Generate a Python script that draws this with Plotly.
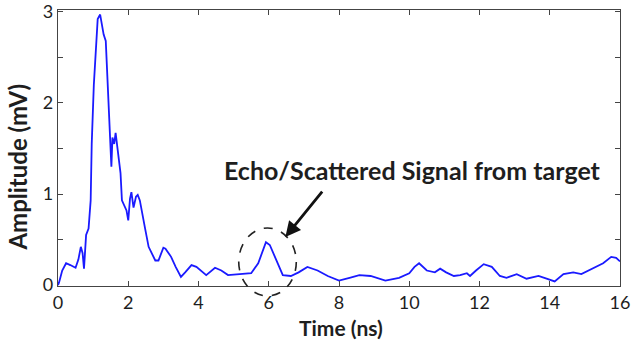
import plotly.graph_objects as go

time_ns = [0.0, 0.03, 0.12, 0.23, 0.35, 0.5, 0.58, 0.65, 0.7, 0.74, 0.8, 0.87, 0.93, 0.96, 1.02, 1.08, 1.13, 1.2, 1.25, 1.3, 1.36, 1.44, 1.5, 1.52, 1.55, 1.6, 1.64, 1.7, 1.78, 1.82, 1.88, 1.95, 2.0, 2.05, 2.09, 2.15, 2.22, 2.27, 2.33, 2.4, 2.48, 2.58, 2.68, 2.77, 2.86, 3.0, 3.06, 3.22, 3.35, 3.5, 3.62, 3.8, 3.94, 4.22, 4.47, 4.65, 4.84, 5.13, 5.5, 5.7, 5.82, 5.92, 6.03, 6.15, 6.26, 6.4, 6.63, 6.85, 7.1, 7.39, 7.68, 8.0, 8.3, 8.58, 8.9, 9.32, 9.71, 10.0, 10.15, 10.28, 10.5, 10.73, 10.88, 11.05, 11.27, 11.45, 11.64, 11.73, 11.9, 12.12, 12.35, 12.58, 12.77, 13.06, 13.34, 13.68, 13.91, 14.14, 14.39, 14.67, 14.9, 15.24, 15.52, 15.75, 15.89, 16.0]
amplitude_mv = [0.0, 0.03, 0.16, 0.24, 0.22, 0.19, 0.28, 0.42, 0.35, 0.18, 0.55, 0.62, 0.93, 1.55, 2.2, 2.62, 2.92, 2.97, 2.85, 2.75, 2.68, 2.05, 1.6, 1.3, 1.62, 1.55, 1.67, 1.5, 1.23, 0.93, 0.87, 0.82, 0.71, 0.95, 1.02, 0.85, 0.97, 0.99, 0.93, 0.8, 0.62, 0.42, 0.33, 0.27, 0.27, 0.41, 0.4, 0.31, 0.2, 0.09, 0.14, 0.22, 0.2, 0.11, 0.19, 0.16, 0.11, 0.12, 0.13, 0.24, 0.36, 0.47, 0.44, 0.33, 0.22, 0.11, 0.1, 0.14, 0.2, 0.16, 0.1, 0.05, 0.08, 0.11, 0.1, 0.05, 0.08, 0.13, 0.2, 0.24, 0.16, 0.14, 0.18, 0.14, 0.1, 0.11, 0.13, 0.1, 0.16, 0.23, 0.2, 0.1, 0.08, 0.12, 0.07, 0.1, 0.07, 0.04, 0.12, 0.14, 0.12, 0.19, 0.24, 0.31, 0.3, 0.26]

x_tick_vals = [0, 2, 4, 6, 8, 10, 12, 14, 16]
y_tick_vals = [0, 0.5, 1, 1.5, 2, 2.5, 3]
y_tick_text = ["0", "", "1", "", "2", "", "3"]
x_title = "Time (ns)"
y_title = "Amplitude (mV)"
annotation_text = "Echo/Scattered Signal from target"

FONT = "Lato"
TXT = "#1e1e1e"

fig = go.Figure()
fig.add_trace(go.Scatter(x=time_ns, y=amplitude_mv, mode="lines",
                         line=dict(color="#1a1aff", width=1.8), showlegend=False))

axis_common = dict(showline=True, linecolor="#444", linewidth=1.2, mirror="ticks",
                   ticks="inside", ticklen=5, tickcolor="#444", showgrid=False,
                   zeroline=False, tickfont=dict(family=FONT, size=18, color=TXT),
                   tickprefix="<b>", ticksuffix="</b>", automargin=False,
                   ticklabeloverflow="allow")

fig.update_xaxes(range=[0, 16], tickvals=x_tick_vals, **axis_common)
fig.update_yaxes(range=[-0.01, 3.02], tickvals=y_tick_vals, ticktext=y_tick_text, **axis_common)

# axis titles placed as annotations
fig.add_annotation(xref="paper", yref="paper", x=0.5035, y=-0.1486,
                   xanchor="center", yanchor="middle",
                   text="<b>" + x_title + "</b>", showarrow=False,
                   font=dict(family=FONT, size=21, color=TXT))
fig.add_annotation(xref="paper", yref="paper", x=-0.072, y=0.431, textangle=-90,
                   xanchor="center", yanchor="middle",
                   text="<b>" + y_title + "</b>", showarrow=False,
                   font=dict(family=FONT, size=24, color=TXT))

fig.add_shape(type="circle", xref="paper", yref="paper",
              x0=0.3216, x1=0.424, y0=-0.036, y1=0.210,
              line=dict(color="#222", width=1.6, dash="dash"))

fig.add_annotation(xref="paper", yref="paper", x=0.4046, y=0.1775,
                   ax=38, ay=-47, axref="pixel", ayref="pixel",
                   showarrow=True, arrowhead=2, arrowsize=1.1, arrowwidth=2.8,
                   arrowcolor="#111", text="")
fig.add_annotation(xref="paper", yref="paper", x=0.631, y=0.420,
                   text="<b>" + annotation_text + "</b>", showarrow=False,
                   font=dict(family=FONT, size=25, color=TXT))

fig.update_layout(width=632, height=341, margin=dict(l=58, r=12, t=10, b=55),
                  paper_bgcolor="white", plot_bgcolor="white")

fig.write_html("out.html")
